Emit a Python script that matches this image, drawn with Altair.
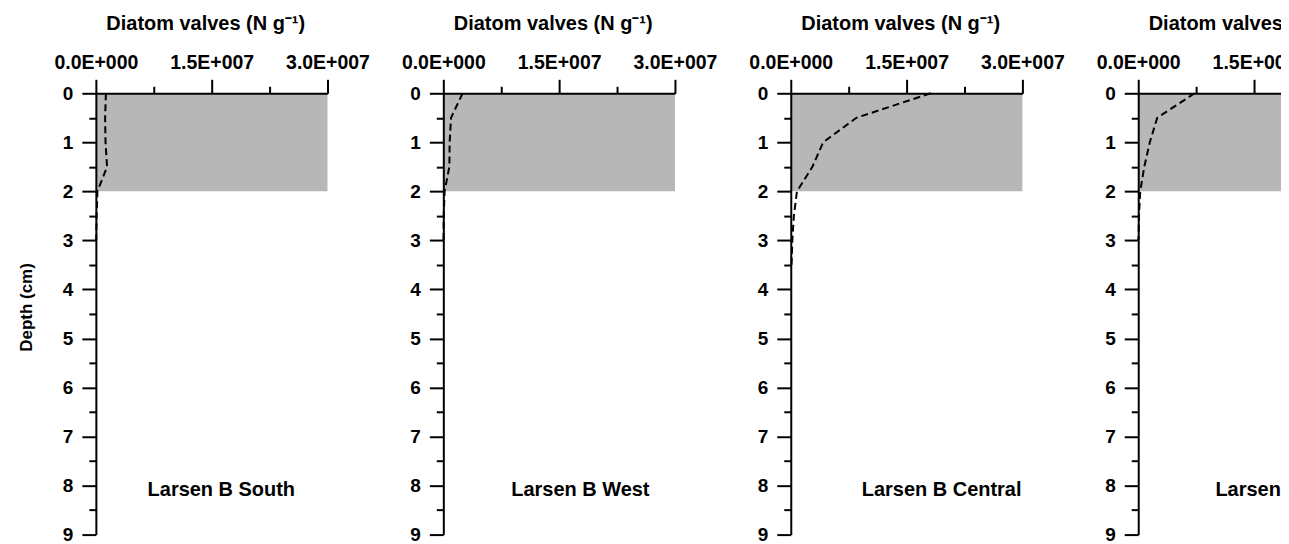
import altair as alt
import pandas as pd

# ---------------- data ----------------
sites = ["Larsen B South", "Larsen B West", "Larsen B Central", "Larsen B North"]

depth_south = [0, 0.5, 1, 1.5, 2, 2.5, 3]
valves_south = [1.3e6, 1.2e6, 1.25e6, 1.45e6, 0.2e6, 0.1e6, 0.05e6]

depth_west = [0, 0.5, 1, 1.5, 2, 2.5, 3]
valves_west = [2.5e6, 1.0e6, 0.82e6, 0.78e6, 0.17e6, 0.05e6, 0.03e6]

depth_central = [0, 0.5, 1, 1.5, 2, 2.5, 3, 3.5]
valves_central = [1.81e7, 0.85e7, 0.42e7, 0.28e7, 0.08e7, 0.04e7, 0.02e7, 0.01e7]

depth_north = [0, 0.5, 1, 1.5, 2, 2.5, 3]
valves_north = [7.3e6, 2.46e6, 1.5e6, 0.78e6, 0.26e6, 0.1e6, 0.03e6]

depths = [depth_south, depth_west, depth_central, depth_north]
valves = [valves_south, valves_west, valves_central, valves_north]

# shaded interval (depth 0-2 cm across the full x range)
shade_top = 0
shade_bottom = 2
shade_x0 = 0
shade_x1 = 3.0e7

# panel label positions (left edge, data units)
label_x = [0.67e7, 0.88e7, 0.92e7, 1.0e7]
label_depth = 8.22

x_major = [0, 1.5e7, 3.0e7]
x_minor = [0.75e7, 2.25e7]
y_major = [0, 1, 2, 3, 4, 5, 6, 7, 8, 9]
y_minor = [0.5, 1.5, 2.5, 3.5, 4.5, 5.5, 6.5, 7.5, 8.5]

x_title = "Diatom valves (N g\u207b\u00b9)"
y_title = "Depth (cm)"

FONT = "Liberation Sans"
W, H = 232, 442
LABEL_EXPR = ("datum.value == 0 ? '0.0E+000' : "
              "format(datum.value / 1e7, '.1f') + 'E+007'")
TICK_FS = 19.5


def panel(i):
    df_line = pd.DataFrame({"depth": depths[i], "valves": valves[i]})
    df_rect = pd.DataFrame({"x0": [shade_x0], "x1": [shade_x1],
                            "d0": [shade_top], "d1": [shade_bottom]})
    df_text = pd.DataFrame({"x": [label_x[i]], "d": [label_depth], "t": [sites[i]]})

    xs = alt.Scale(domain=[0, 3.0e7], nice=False, zero=False)
    ys = alt.Scale(domain=[0, 9], reverse=True, nice=False, zero=False)

    common_tick = dict(tickWidth=2, tickColor="black", grid=False, zindex=1)
    lab = dict(labelFont=FONT, labelFontSize=TICK_FS, labelFontWeight="bold",
               labelColor="black", labelFlush=False, labelOverlap=False)

    major_x = alt.Axis(
        orient="top", values=x_major, labelExpr=LABEL_EXPR,
        title=x_title, titleFont=FONT, titleFontSize=20, titleFontWeight="bold",
        titleColor="black", titleAlign="left", titleBaseline="alphabetic",
        titleAngle=0, titleX=10, titleY=-64,
        labelPadding=7, tickSize=14, domainWidth=2, domainColor="black",
        **lab, **common_tick,
    )
    minor_x = alt.Axis(
        orient="top", values=x_minor, labels=False,
        title=None, domain=False, tickSize=7, **common_tick,
    )
    lab_y = dict(lab, labelFontSize=19)
    major_y_kwargs = dict(
        orient="left", values=y_major, format="d", labelPadding=9,
        tickSize=14, domainWidth=2, domainColor="black", **lab_y, **common_tick,
    )
    if i == 0:
        major_y = alt.Axis(title=y_title, titleFont=FONT, titleFontSize=17,
                           titleFontWeight="bold", titleColor="black",
                           titleAngle=270, titleAlign="center",
                           titleBaseline="alphabetic", titleX=-64, titleY=214,
                           **major_y_kwargs)
    else:
        major_y = alt.Axis(title=None, **major_y_kwargs)
    minor_y = alt.Axis(
        orient="left", values=y_minor, labels=False, title=None, domain=False,
        tickSize=7, **common_tick,
    )

    rect = alt.Chart(df_rect).mark_rect(color="#b7b7b7").encode(
        x=alt.X("x0:Q", scale=xs, axis=major_x),
        x2="x1:Q",
        y=alt.Y("d0:Q", scale=ys, axis=major_y),
        y2="d1:Q",
    )
    line = alt.Chart(df_line).mark_line(
        color="black", strokeWidth=2, strokeDash=[7, 4]
    ).encode(
        x=alt.X("valves:Q", scale=xs, axis=minor_x),
        y=alt.Y("depth:Q", scale=ys, axis=minor_y),
        order="depth:Q",
    )
    text = alt.Chart(df_text).mark_text(
        align="left", baseline="alphabetic", font=FONT, fontSize=20,
        fontWeight="bold", color="black"
    ).encode(
        x=alt.X("x:Q", scale=xs, axis=None),
        y=alt.Y("d:Q", scale=ys, axis=None),
        text="t:N",
    )
    return alt.layer(rect, line, text).resolve_axis(
        x="independent", y="independent"
    ).properties(width=W, height=H)


# the figure is wider than the page: a negative right padding makes the
# SVG end at the right edge of the window, cutting the last panel like the original
chart = alt.hconcat(
    *[panel(i) for i in range(4)], spacing=116, bounds="flush"
).properties(
    padding={"left": 9, "top": 4, "right": -132, "bottom": 0}
).configure(
    background="white",
    view={"stroke": "transparent"},
)

chart.save("out.html", embed_options={"renderer": "svg", "actions": False})
